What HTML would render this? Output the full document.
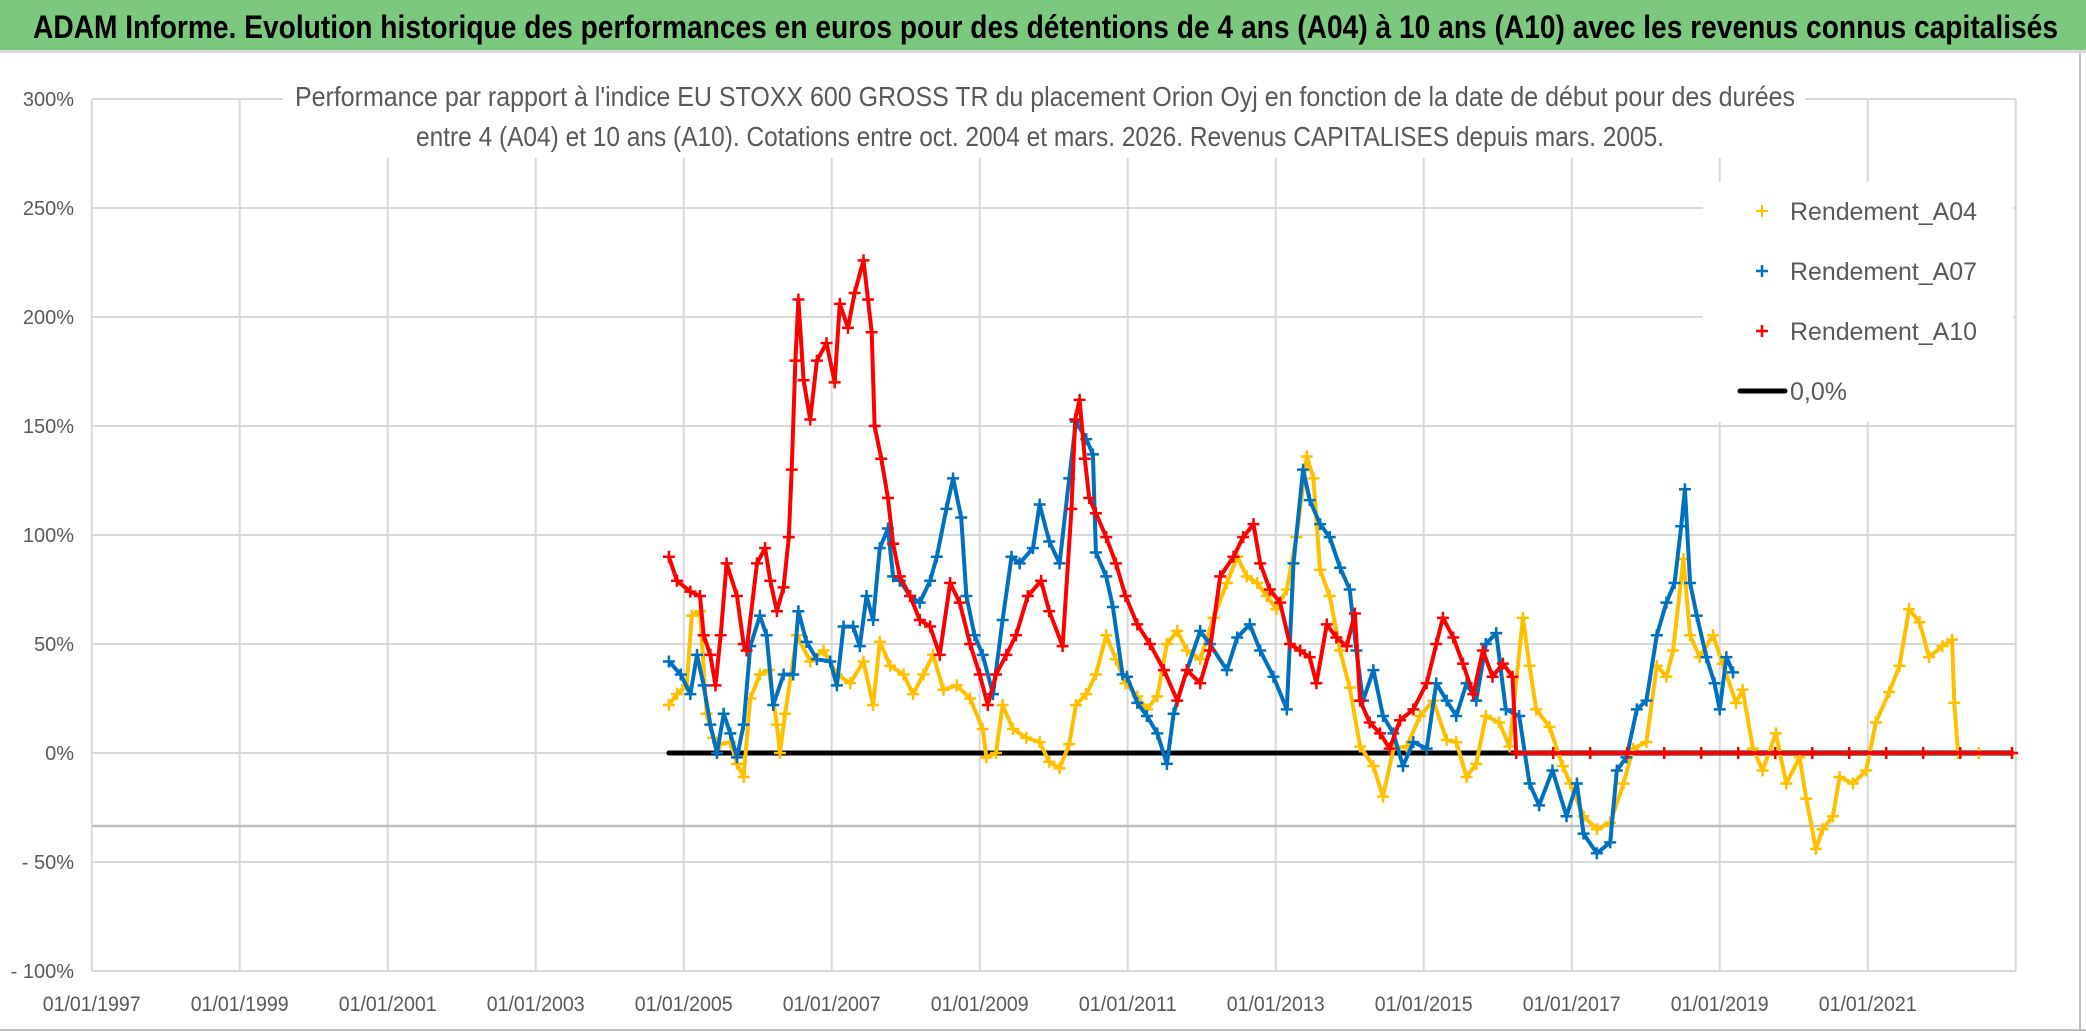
<!DOCTYPE html>
<html><head><meta charset="utf-8">
<style>
html,body{margin:0;padding:0;background:#fff;}
svg{display:block;}
text{font-family:"Liberation Sans",sans-serif;}
</style></head>
<body>
<svg id="chart" width="2086" height="1031" xmlns="http://www.w3.org/2000/svg">
<rect x="0" y="0" width="2086" height="1031" fill="#fff"/>
<rect x="0" y="0" width="2086" height="50" fill="#7DC87F"/>
<rect x="0" y="50" width="2086" height="3" fill="#D9D9D9"/>
<text x="33" y="38" font-size="32" font-weight="bold" fill="#000" textLength="2025" lengthAdjust="spacingAndGlyphs">ADAM Informe. Evolution historique des performances en euros pour des détentions de 4 ans (A04) à 10 ans (A10) avec les revenus connus capitalisés</text>
<g id="grid"></g>
<g id="yticks"></g>
<g id="xticks"></g>
<rect x="283" y="60" width="1522" height="98" fill="#fff"/>
<text x="295" y="106" font-size="28" fill="#595959" textLength="1500" lengthAdjust="spacingAndGlyphs">Performance par rapport à l'indice EU STOXX 600 GROSS TR  du placement Orion Oyj en fonction de la date de début pour des durées</text>
<text x="416" y="146" font-size="28" fill="#595959" textLength="1248" lengthAdjust="spacingAndGlyphs">entre 4 (A04) et 10 ans (A10). Cotations entre oct. 2004 et mars. 2026. Revenus CAPITALISES depuis mars. 2005.</text>
<g id="plot"></g>
<g>
<rect x="1703" y="182" width="310" height="240" fill="#fff"/>
<g>
<path d="M1756 211h12M1762 205v12" stroke="#FFC000" stroke-width="2"/>
<text x="1790" y="220" font-size="25" fill="#595959" textLength="187" lengthAdjust="spacingAndGlyphs">Rendement_A04</text></g>
<g>
<path d="M1756 271h12M1762 265v12" stroke="#0070C0" stroke-width="2.5"/>
<text x="1790" y="280" font-size="25" fill="#595959" textLength="187" lengthAdjust="spacingAndGlyphs">Rendement_A07</text></g>
<g>
<path d="M1756 331h12M1762 325v12" stroke="#FF0000" stroke-width="2.5"/>
<text x="1790" y="340" font-size="25" fill="#595959" textLength="187" lengthAdjust="spacingAndGlyphs">Rendement_A10</text></g>
<g>
<line x1="1740" y1="391" x2="1785" y2="391" stroke="#000" stroke-width="5" stroke-linecap="round"/>
<text x="1790" y="400" font-size="25" fill="#595959">0,0%</text></g>
</g>
<line x1="2080" y1="53" x2="2080" y2="1031" stroke="#BFBFBF" stroke-width="2"/>
<line x1="0" y1="1030" x2="2086" y2="1030" stroke="#BFBFBF" stroke-width="2"/>
</svg>
<script>
const yTicks = [300, 250, 200, 150, 100, 50, 0, -50, -100];
const yTickLabels = ["300%", "250%", "200%", "150%", "100%", "50%", "0%", "- 50%", "- 100%"];
const xTickYears = [1997, 1999, 2001, 2003, 2005, 2007, 2009, 2011, 2013, 2015, 2017, 2019, 2021];
const xTickLabels = ["01/01/1997","01/01/1999","01/01/2001","01/01/2003","01/01/2005","01/01/2007","01/01/2009","01/01/2011","01/01/2013","01/01/2015","01/01/2017","01/01/2019","01/01/2021"];
const xGridYears = [1997,1999,2001,2003,2005,2007,2009,2011,2013,2015,2017,2019,2021,2023];
const zeroLineYears = [2004.8, 2022.95];
const zeroLineValues = [0, 0];

const a04Dates = [2004.8,2004.91,2005.04,2005.11,2005.22,2005.31,2005.4,2005.49,2005.63,2005.72,2005.81,2005.9,2006.03,2006.15,2006.26,2006.3,2006.37,2006.53,2006.71,2006.89,2007.07,2007.25,2007.43,2007.56,2007.65,2007.79,2007.97,2008.1,2008.24,2008.37,2008.51,2008.69,2008.87,2009.04,2009.09,2009.22,2009.31,2009.45,2009.63,2009.81,2009.94,2010.08,2010.21,2010.3,2010.44,2010.57,2010.71,2010.84,2010.97,2011.13,2011.26,2011.4,2011.53,2011.67,2011.8,2011.98,2012.16,2012.34,2012.48,2012.61,2012.75,2012.88,2013.01,2013.15,2013.28,2013.42,2013.51,2013.6,2013.73,2013.87,2014.0,2014.14,2014.32,2014.45,2014.59,2014.77,2014.95,2015.13,2015.31,2015.44,2015.58,2015.71,2015.84,2016.02,2016.16,2016.34,2016.43,2016.52,2016.7,2016.88,2016.98,2017.16,2017.34,2017.52,2017.7,2017.83,2018.01,2018.15,2018.28,2018.37,2018.51,2018.6,2018.73,2018.91,2019.04,2019.22,2019.31,2019.45,2019.58,2019.76,2019.9,2020.08,2020.17,2020.3,2020.39,2020.53,2020.62,2020.8,2020.98,2021.11,2021.29,2021.43,2021.56,2021.7,2021.83,2022.01,2022.14,2022.17,2022.22,2022.5,2022.95];
const a04Values = [22,27,31,63,65,18,7,4,5,-5,-11,25,36,38,13,0,18,54,42,47,36,32,42,22,51,40,36,27,36,45,29,31,25,11,-2,0,22,11,7,5,-4,-7,4,22,27,36,54,43,32,26,20,26,50,56,47,43,62,78,90,81,78,72,66,75,99,136,126,84,72,47,30,3,-6,-20,2,3,17,24,6,5,-11,-5,17,14,3,62,40,20,12,-6,-14,-29,-35,-32,-14,2,5,40,35,47,89,54,44,54,41,23,29,2,-8,9,-14,-2,-21,-44,-35,-29,-11,-14,-8,14,28,40,66,60,44,49,52,23,0,0,0];

const a07Dates = [2004.8,2004.96,2005.09,2005.18,2005.27,2005.36,2005.45,2005.54,2005.63,2005.72,2005.81,2005.9,2006.03,2006.12,2006.21,2006.35,2006.48,2006.55,2006.66,2006.8,2006.98,2007.07,2007.16,2007.29,2007.38,2007.47,2007.56,2007.65,2007.76,2007.83,2007.92,2008.06,2008.19,2008.33,2008.42,2008.55,2008.64,2008.75,2008.82,2008.93,2009.04,2009.18,2009.31,2009.43,2009.54,2009.72,2009.81,2009.94,2010.08,2010.21,2010.3,2010.44,2010.53,2010.57,2010.71,2010.8,2010.93,2010.99,2011.13,2011.26,2011.4,2011.53,2011.62,2011.8,2011.98,2012.11,2012.34,2012.48,2012.65,2012.79,2012.97,2013.15,2013.24,2013.37,2013.46,2013.6,2013.73,2013.87,2014.0,2014.09,2014.18,2014.32,2014.45,2014.59,2014.72,2014.86,2015.04,2015.17,2015.31,2015.44,2015.58,2015.71,2015.84,2015.98,2016.11,2016.29,2016.43,2016.56,2016.74,2016.93,2017.07,2017.16,2017.34,2017.52,2017.61,2017.74,2017.88,2018.01,2018.15,2018.28,2018.39,2018.48,2018.53,2018.6,2018.69,2018.82,2018.93,2019.0,2019.09,2019.18];
const a07Values = [42,36,27,45,31,13,0,18,9,-2,13,49,63,54,22,36,36,65,51,43,42,31,58,58,49,72,61,94,103,81,79,72,69,79,90,112,126,108,72,54,45,27,61,90,87,94,114,97,87,126,152,144,137,92,81,67,36,35,23,17,9,-5,18,38,56,50,38,53,59,47,35,20,87,130,116,105,99,85,75,47,24,38,17,9,-6,5,2,32,24,17,32,24,50,55,20,17,-14,-24,-8,-29,-14,-37,-46,-41,-8,-2,20,24,54,69,78,104,121,78,63,44,32,20,44,37];

const a10Dates = [2004.8,2004.91,2005.09,2005.22,2005.27,2005.36,2005.43,2005.5,2005.58,2005.72,2005.81,2005.85,2005.99,2006.1,2006.17,2006.26,2006.35,2006.42,2006.46,2006.51,2006.55,2006.62,2006.71,2006.8,2006.93,2007.04,2007.11,2007.22,2007.31,2007.43,2007.49,2007.54,2007.58,2007.67,2007.76,2007.83,2007.92,2008.06,2008.19,2008.33,2008.46,2008.6,2008.73,2008.87,2009.0,2009.11,2009.22,2009.36,2009.49,2009.65,2009.83,2009.94,2010.12,2010.24,2010.29,2010.35,2010.42,2010.48,2010.57,2010.71,2010.84,2010.97,2011.13,2011.3,2011.49,2011.67,2011.8,2011.98,2012.11,2012.25,2012.43,2012.56,2012.7,2012.79,2012.92,2013.06,2013.19,2013.33,2013.46,2013.55,2013.69,2013.82,2013.96,2014.07,2014.14,2014.27,2014.41,2014.54,2014.68,2014.86,2015.04,2015.17,2015.26,2015.4,2015.53,2015.67,2015.8,2015.93,2016.07,2016.2,2016.25,2016.75,2017.25,2017.75,2018.25,2018.75,2019.25,2019.75,2020.25,2020.75,2021.25,2021.75,2022.25,2022.95];
const a10Values = [90,79,74,72,54,45,31,54,87,72,50,47,87,94,79,65,76,99,130,180,208,171,153,180,188,170,206,195,211,226,208,193,150,135,117,96,81,72,61,58,45,78,69,50,36,22,36,45,54,72,79,65,49,112,153,162,135,117,110,99,87,72,59,50,38,24,38,32,47,81,90,99,105,87,75,69,50,47,44,32,59,53,49,64,24,14,9,2,15,20,32,50,62,53,41,27,47,35,41,35,0,0,0,0,0,0,0,0,0,0,0,0,0,0];

const NS = "http://www.w3.org/2000/svg";
const X0 = 91.7, PXYR = 74, Y0 = 753, PXPCT = 2.18, XL = 92, XR = 2016;
function xScale(yr){ return X0 + (yr - 1997) * PXYR; }
function yScale(v){ return Y0 - v * PXPCT; }
function mk(tag, attrs, parent){ const e = document.createElementNS(NS, tag); for (const k in attrs) e.setAttribute(k, attrs[k]); parent.appendChild(e); return e; }

const grid = document.getElementById('grid');
yTicks.forEach(function(v){
  const l = mk('line', {x1: XL, x2: XR, y1: yScale(v), y2: yScale(v), stroke: '#D9D9D9', 'stroke-width': 2}, grid);
  
  
});
xGridYears.forEach(function(yr){
  const l = mk('line', {x1: xScale(yr), x2: xScale(yr), y1: yScale(300), y2: yScale(-100), stroke: '#D9D9D9', 'stroke-width': 2}, grid);
  
  
});
const ax = mk('line', {x1: XL, x2: XR, y1: 826, y2: 826, stroke: '#BFBFBF', 'stroke-width': 2.5}, grid);



const yt = document.getElementById('yticks');
yTicks.forEach(function(v, i){
  const t = mk('text', {x: 74, y: yScale(v) + 7, 'font-size': 20, fill: '#595959', 'text-anchor': 'end'}, yt);
  t.textContent = yTickLabels[i];
  
  
});
const xt = document.getElementById('xticks');
xTickYears.forEach(function(yr, i){
  const t = mk('text', {x: xScale(yr) - 49, y: 1011, 'font-size': 21, fill: '#595959', textLength: 98, lengthAdjust: 'spacingAndGlyphs'}, xt);
  t.textContent = xTickLabels[i];
  
  
});

const plot = document.getElementById('plot');
const zl = mk('polyline', {points: zeroLineYears.map(function(d, i){ return xScale(d) + ',' + yScale(zeroLineValues[i]); }).join(' '), stroke: '#000', 'stroke-width': 5, fill: 'none', 'stroke-linecap': 'round'}, plot);



function drawSeries(dates, values, color, name){
  const g = mk('g', {}, plot);
  
  
  const pts = dates.map(function(d, i){ return xScale(d).toFixed(1) + ',' + yScale(values[i]).toFixed(1); }).join(' ');
  const pl = mk('polyline', {points: pts, stroke: color, 'stroke-width': 4, fill: 'none', 'stroke-linejoin': 'round'}, g);
  
  
  dates.forEach(function(d, i){
    const cx = xScale(d), cy = yScale(values[i]);
    const p = mk('path', {d: 'M' + (cx - 6) + ' ' + cy + 'h12M' + cx + ' ' + (cy - 6) + 'v12', stroke: color, 'stroke-width': 2.5}, g);
    
    
  });
}
drawSeries(a04Dates, a04Values, '#FFC000', 'series-a04');
drawSeries(a07Dates, a07Values, '#0070C0', 'series-a07');
drawSeries(a10Dates, a10Values, '#FF0000', 'series-a10');
</script>
</body></html>
